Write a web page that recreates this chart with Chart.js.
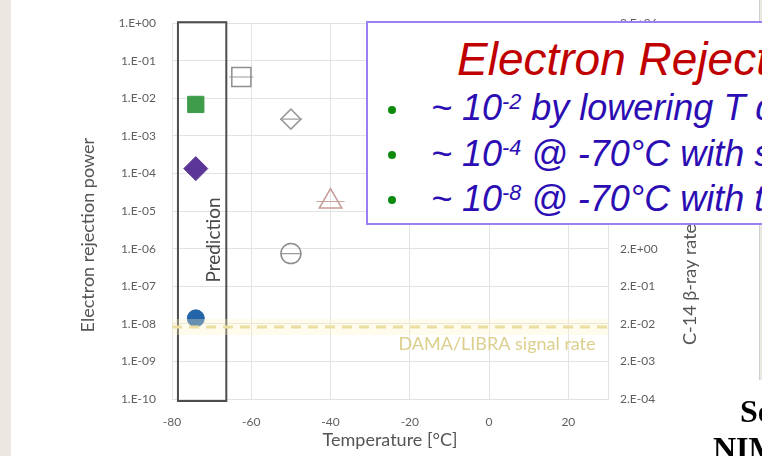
<!DOCTYPE html>
<html>
<head>
<meta charset="utf-8">
<title>Electron rejection power vs temperature</title>
<script src="https://cdn.jsdelivr.net/npm/chart.js@4.4.1/dist/chart.umd.min.js"></script>
<style>
  html, body { margin: 0; padding: 0; background: #fff; }
  #page { position: relative; width: 762px; height: 456px; overflow: hidden; background: #fff; }
  #leftStrip { position: absolute; left: 0; top: 0; width: 11px; height: 456px; background: #ebe8e1; }
  #rightEdge { position: absolute; left: 759px; top: 0; width: 3px; height: 380px; background: #ebe8e1; border-left: 1px solid #cfcfcf; }
  #chart { position: absolute; left: 0; top: 0; filter: blur(0.4px); }
  #callout { position: absolute; left: 366px; top: 21px; width: 420px; height: 200px; background: #fff; border: 2px solid #9a80f2; }
  .callTitle { position: absolute; left: 457px; top: 36px; font: italic 46px/46px "Liberation Sans", Arial, sans-serif; color: #c00000; white-space: nowrap; }
  .bullet { position: absolute; left: 388px; width: 8px; height: 8px; border-radius: 50%; background: #0b8a0b; }
  .point { position: absolute; left: 431px; font: italic 36px/36px "Liberation Sans", Arial, sans-serif; color: #2b0db3; white-space: nowrap; }
  .point sup { font-size: 0.6em; vertical-align: 11px; line-height: 0; }
  .cite { position: absolute; font: bold 32px/32px "Liberation Serif", "Times New Roman", serif; color: #000; white-space: nowrap; }
</style>
</head>
<body>
<div id="page">
  <div id="leftStrip"></div>
  <div id="rightEdge"></div>
  <canvas id="chart" width="762" height="456"></canvas>
  <div id="callout"></div>
  <div class="callTitle">Electron Rejection</div>
  <div class="bullet" style="top:106px"></div>
  <div class="bullet" style="top:151px"></div>
  <div class="bullet" style="top:196px"></div>
  <div class="point" style="top:90px">~ 10<sup>-2</sup> by lowering T down to -70°C</div>
  <div class="point" style="top:136px">~ 10<sup>-4</sup> @ -70°C with shape analysis</div>
  <div class="point" style="top:181px">~ 10<sup>-8</sup> @ -70°C with timing</div>
  <div class="cite" style="left:740px; top:395px">Source</div>
  <div class="cite" style="left:713px; top:432px">NIM A</div>
</div>

<script>
// axis ticks
const tempTicks = [-80, -60, -40, -20, 0, 20];
const rejTickValues = [1, 1e-1, 1e-2, 1e-3, 1e-4, 1e-5, 1e-6, 1e-7, 1e-8, 1e-9, 1e-10];
const rejTickLabels = ["1.E+00", "1.E-01", "1.E-02", "1.E-03", "1.E-04", "1.E-05",
  "1.E-06", "1.E-07", "1.E-08", "1.E-09", "1.E-10"];
const rateTickValues = [2e6, 2e5, 2e4, 2e3, 2e2, 2e1, 2, 2e-1, 2e-2, 2e-3, 2e-4];
const rateTickLabels = ["2.E+06", "2.E+05", "2.E+04", "2.E+03", "2.E+02", "2.E+01",
  "2.E+00", "2.E-01", "2.E-02", "2.E-03", "2.E-04"];

// measured points (open markers)
const openSquareTemp = [-62.5];
const openSquareRej = [3.7e-2];
const openDiamondTemp = [-50];
const openDiamondRej = [2.8e-3];
const openTriangleTemp = [-40];
const openTriangleRej = [1.8e-5];
const openCircleTemp = [-50];
const openCircleRej = [7.4e-7];

// predictions at -74 C (filled markers)
const predSquareTemp = [-74];
const predSquareRej = [6.9e-3];
const predDiamondTemp = [-74];
const predDiamondRej = [1.35e-4];
const predCircleTemp = [-74];
const predCircleRej = [1.4e-8];

// DAMA/LIBRA signal rate level
const damaTemp = [-80, 30];
const damaRej = [8.3e-9, 8.3e-9];

// prediction box (data units)
const predBoxTemp = [-78.5, -66.3];
const predBoxRej = [1, 1e-10];

const pts = (xs, ys) => xs.map((x, i) => ({ x: x, y: ys[i] }));

const GRID = "#e3e3e3";
const TICK = "#5f5f5f";
const FONT = "Lato, 'Open Sans', sans-serif";

function openMarker(xs, ys, style, radius, color) {
  return {
    data: pts(xs, ys),
    pointStyle: style,
    pointRadius: radius,
    backgroundColor: "rgba(0,0,0,0)",
    borderColor: color,
    pointBorderWidth: 1.5,
  };
}

function barMarker(xs, ys, radius, color) {
  return {
    data: pts(xs, ys),
    pointStyle: "line",
    pointRadius: radius,
    borderColor: color,
    pointBorderWidth: 1.2,
  };
}

function filledMarker(xs, ys, style, radius, color) {
  return {
    data: pts(xs, ys),
    pointStyle: style,
    pointRadius: radius,
    backgroundColor: color,
    borderColor: color,
    pointBorderWidth: 1,
  };
}

// draws the prediction box, the labels and the two vertical axis titles
const decorations = {
  id: "decorations",
  beforeDatasetsDraw(chart) {
    const { ctx, scales } = chart;
    const x = scales.x, y = scales.y;
    const x0 = x.getPixelForValue(predBoxTemp[0]);
    const x1 = x.getPixelForValue(predBoxTemp[1]);
    const y0 = y.getPixelForValue(predBoxRej[0]);
    const y1 = y.getPixelForValue(predBoxRej[1]);
    ctx.save();
    ctx.strokeStyle = "#4d4d4d";
    ctx.lineWidth = 2;
    ctx.strokeRect(x0, y0 - 1, x1 - x0, y1 - y0 + 3);

    // "Prediction" inside the box
    ctx.translate(x.getPixelForValue(-69.5), y.getPixelForValue(1.7e-6));
    ctx.rotate(-Math.PI / 2);
    ctx.fillStyle = "#4a4a4a";
    ctx.font = "19px " + FONT;
    ctx.textAlign = "center";
    ctx.textBaseline = "middle";
    ctx.fillText("Prediction", 0, 0);
    ctx.restore();

    // DAMA label
    ctx.save();
    ctx.fillStyle = "#dccf8c";
    ctx.font = "18px " + FONT;
    ctx.textAlign = "center";
    ctx.textBaseline = "middle";
    ctx.fillText("DAMA/LIBRA signal rate", x.getPixelForValue(2), y.getPixelForValue(2.8e-9));
    ctx.restore();
  },
  afterDraw(chart) {
    const { ctx, chartArea } = chart;
    ctx.save();
    ctx.fillStyle = "#555";
    ctx.font = "18px " + FONT;
    ctx.textBaseline = "middle";

    ctx.save();
    ctx.translate(chartArea.left - 84, chartArea.top + 212);
    ctx.rotate(-Math.PI / 2);
    ctx.textAlign = "center";
    ctx.fillText("Electron rejection power", 0, 0);
    ctx.restore();

    ctx.save();
    ctx.translate(chartArea.right + 82, chartArea.bottom - 54);
    ctx.rotate(-Math.PI / 2);
    ctx.textAlign = "left";
    ctx.fillText("C-14 \u03b2-ray rate [Hz]", 0, 0);
    ctx.restore();

    ctx.restore();
  },
};

new Chart(document.getElementById("chart"), {
  type: "scatter",
  data: {
    datasets: [
      // soft glow under the DAMA line
      {
        type: "line",
        data: pts(damaTemp, damaRej),
        borderColor: "rgba(255, 245, 195, 0.3)",
        borderWidth: 16,
        pointRadius: 0,
      },
      {
        type: "line",
        data: pts(damaTemp, damaRej),
        borderColor: "#e2d592",
        borderWidth: 3,
        borderDash: [10, 7],
        pointRadius: 0,
      },
      openMarker(openSquareTemp, openSquareRej, "rect", 13.5, "#8e8e8e"),
      barMarker(openSquareTemp, openSquareRej, 12, "#9a9a9a"),
      openMarker(openDiamondTemp, openDiamondRej, "rectRot", 10, "#9a9a9a"),
      barMarker(openDiamondTemp, openDiamondRej, 11, "#a0a0a0"),
      openMarker(openTriangleTemp, openTriangleRej, "triangle", 13, "#c79c98"),
      barMarker(openTriangleTemp, openTriangleRej, 14, "#c9a3a0"),
      openMarker(openCircleTemp, openCircleRej, "circle", 10, "#8c8c8c"),
      barMarker(openCircleTemp, openCircleRej, 10, "#9a9a9a"),
      filledMarker(predSquareTemp, predSquareRej, "rect", 11.5, "#3e9c4b"),
      filledMarker(predDiamondTemp, predDiamondRej, "rectRot", 12, "#5b3696"),
      filledMarker(predCircleTemp, predCircleRej, "circle", 8.5, "#2464a8"),
    ],
  },
  options: {
    responsive: false,
    animation: false,
    events: [],
    layout: { padding: { left: 80, right: 54, top: 14, bottom: 5 } },
    plugins: { legend: { display: false }, tooltip: { enabled: false } },
    scales: {
      x: {
        type: "linear",
        min: -80,
        max: 30,
        afterBuildTicks: (scale) => { scale.ticks = tempTicks.map((v) => ({ value: v })); },
        afterFit: (scale) => { scale.height = 52; },
        grid: { color: GRID, drawTicks: false },
        border: { color: GRID },
        ticks: { color: TICK, font: { family: FONT, size: 12 }, padding: 16, autoSkip: false, maxRotation: 0 },
        title: {
          display: true,
          text: "Temperature [\u00b0C]",
          color: "#555",
          font: { family: FONT, size: 18 },
          padding: 0,
        },
      },
      y: {
        type: "logarithmic",
        position: "left",
        min: 1e-10,
        max: 1,
        afterBuildTicks: (scale) => { scale.ticks = rejTickValues.map((v) => ({ value: v })); },
        afterFit: (scale) => { scale.width = 92; },
        grid: { color: GRID, drawTicks: false },
        border: { color: GRID },
        ticks: {
          color: TICK,
          font: { family: FONT, size: 12 },
          padding: 16,
          autoSkip: false,
          callback: (v, i) => rejTickLabels[i],
        },
      },
      y2: {
        type: "logarithmic",
        position: "right",
        min: 2e-4,
        max: 2e6,
        afterBuildTicks: (scale) => { scale.ticks = rateTickValues.map((v) => ({ value: v })); },
        afterFit: (scale) => { scale.width = 100; },
        grid: { drawOnChartArea: false, drawTicks: false },
        border: { color: GRID },
        ticks: {
          color: TICK,
          font: { family: FONT, size: 12 },
          padding: 12,
          autoSkip: false,
          callback: (v, i) => rateTickLabels[i],
        },
      },
    },
  },
  plugins: [decorations],
});
</script>
</body>
</html>
